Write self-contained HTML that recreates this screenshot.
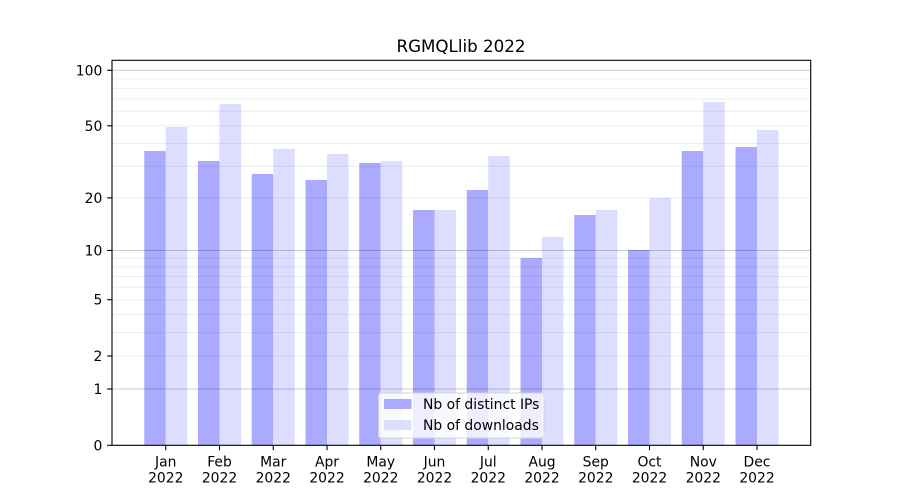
<!DOCTYPE html>
<html>
<head>
<meta charset="utf-8">
<style>
  html,body{margin:0;padding:0;background:#fff;}
  svg{display:block;}
  text{font-family:"DejaVu Sans","Liberation Sans",sans-serif;fill:#000;}
</style>
</head>
<body>
<svg width="900" height="500" viewBox="0 0 900 500" xmlns="http://www.w3.org/2000/svg">
  <rect x="0" y="0" width="900" height="500" fill="#fff"/>
  <!-- title -->
  <text x="461" y="52" font-size="16.7" text-anchor="middle">RGMQLlib 2022</text>

  <!-- bars -->
  <g>
    <!-- IPs -->
    <rect x="144.25" y="151" width="21.5" height="294.3" fill="#aaaaff"/>
    <rect x="198" y="161" width="21.5" height="284.3" fill="#aaaaff"/>
    <rect x="251.75" y="174" width="21.5" height="271.3" fill="#aaaaff"/>
    <rect x="305.5" y="180" width="21.5" height="265.3" fill="#aaaaff"/>
    <rect x="359.25" y="163" width="21.5" height="282.3" fill="#aaaaff"/>
    <rect x="413" y="210" width="21.5" height="235.3" fill="#aaaaff"/>
    <rect x="466.75" y="190" width="21.5" height="255.3" fill="#aaaaff"/>
    <rect x="520.5" y="258" width="21.5" height="187.3" fill="#aaaaff"/>
    <rect x="574.25" y="215" width="21.5" height="230.3" fill="#aaaaff"/>
    <rect x="628" y="250" width="21.5" height="195.3" fill="#aaaaff"/>
    <rect x="681.75" y="151" width="21.5" height="294.3" fill="#aaaaff"/>
    <rect x="735.5" y="147" width="21.5" height="298.3" fill="#aaaaff"/>
    <!-- downloads -->
    <rect x="165.75" y="127" width="21.5" height="318.3" fill="#ddddff"/>
    <rect x="219.5" y="104" width="21.5" height="341.3" fill="#ddddff"/>
    <rect x="273.25" y="149" width="21.5" height="296.3" fill="#ddddff"/>
    <rect x="327" y="154" width="21.5" height="291.3" fill="#ddddff"/>
    <rect x="380.75" y="161" width="21.5" height="284.3" fill="#ddddff"/>
    <rect x="434.5" y="210" width="21.5" height="235.3" fill="#ddddff"/>
    <rect x="488.25" y="156" width="21.5" height="289.3" fill="#ddddff"/>
    <rect x="542" y="237" width="21.5" height="208.3" fill="#ddddff"/>
    <rect x="595.75" y="210" width="21.5" height="235.3" fill="#ddddff"/>
    <rect x="649.5" y="198" width="21.5" height="247.3" fill="#ddddff"/>
    <rect x="703.25" y="102" width="21.5" height="343.3" fill="#ddddff"/>
    <rect x="757" y="130" width="21.5" height="315.3" fill="#ddddff"/>
  </g>

  <!-- minor grid -->
  <g stroke="rgba(0,0,0,0.07)" stroke-width="1">
    <line x1="112" x2="810.7" y1="356.03" y2="356.03"/>
    <line x1="112" x2="810.7" y1="332.65" y2="332.65"/>
    <line x1="112" x2="810.7" y1="314.52" y2="314.52"/>
    <line x1="112" x2="810.7" y1="299.71" y2="299.71"/>
    <line x1="112" x2="810.7" y1="287.18" y2="287.18"/>
    <line x1="112" x2="810.7" y1="276.33" y2="276.33"/>
    <line x1="112" x2="810.7" y1="266.76" y2="266.76"/>
    <line x1="112" x2="810.7" y1="258.2" y2="258.2"/>
    <line x1="112" x2="810.7" y1="197.91" y2="197.91"/>
    <line x1="112" x2="810.7" y1="166.27" y2="166.27"/>
    <line x1="112" x2="810.7" y1="143.55" y2="143.55"/>
    <line x1="112" x2="810.7" y1="125.81" y2="125.81"/>
    <line x1="112" x2="810.7" y1="111.27" y2="111.27"/>
    <line x1="112" x2="810.7" y1="98.93" y2="98.93"/>
    <line x1="112" x2="810.7" y1="88.22" y2="88.22"/>
    <line x1="112" x2="810.7" y1="78.76" y2="78.76"/>
  </g>
  <!-- major grid -->
  <g stroke="rgba(0,0,0,0.2)" stroke-width="1">
    <line x1="112" x2="810.7" y1="388.98" y2="388.98"/>
    <line x1="112" x2="810.7" y1="250.46" y2="250.46"/>
    <line x1="112" x2="810.7" y1="70.29" y2="70.29"/>
  </g>

  <!-- axes frame -->
  <rect x="112" y="60.3" width="698.7" height="385" fill="none" stroke="#000" stroke-width="1.1"/>

  <!-- y ticks -->
  <g stroke="#000" stroke-width="1.1">
    <line x1="107.1" x2="112" y1="445.3" y2="445.3"/>
    <line x1="107.1" x2="112" y1="388.98" y2="388.98"/>
    <line x1="107.1" x2="112" y1="356.03" y2="356.03"/>
    <line x1="107.1" x2="112" y1="299.71" y2="299.71"/>
    <line x1="107.1" x2="112" y1="250.46" y2="250.46"/>
    <line x1="107.1" x2="112" y1="197.91" y2="197.91"/>
    <line x1="107.1" x2="112" y1="125.81" y2="125.81"/>
    <line x1="107.1" x2="112" y1="70.29" y2="70.29"/>
  </g>
  <g font-size="13.9" text-anchor="end">
    <text x="102.3" y="450.3">0</text>
    <text x="102.3" y="394">1</text>
    <text x="102.3" y="361">2</text>
    <text x="102.3" y="304.7">5</text>
    <text x="102.3" y="255.5">10</text>
    <text x="102.3" y="202.9">20</text>
    <text x="102.3" y="130.8">50</text>
    <text x="102.3" y="75.3">100</text>
  </g>

  <!-- x ticks -->
  <g stroke="#000" stroke-width="1.1">
    <line x1="165.75" x2="165.75" y1="445.3" y2="450.2"/>
    <line x1="219.5" x2="219.5" y1="445.3" y2="450.2"/>
    <line x1="273.25" x2="273.25" y1="445.3" y2="450.2"/>
    <line x1="327" x2="327" y1="445.3" y2="450.2"/>
    <line x1="380.75" x2="380.75" y1="445.3" y2="450.2"/>
    <line x1="434.5" x2="434.5" y1="445.3" y2="450.2"/>
    <line x1="488.25" x2="488.25" y1="445.3" y2="450.2"/>
    <line x1="542" x2="542" y1="445.3" y2="450.2"/>
    <line x1="595.75" x2="595.75" y1="445.3" y2="450.2"/>
    <line x1="649.5" x2="649.5" y1="445.3" y2="450.2"/>
    <line x1="703.25" x2="703.25" y1="445.3" y2="450.2"/>
    <line x1="757" x2="757" y1="445.3" y2="450.2"/>
  </g>
  <g font-size="13.9" text-anchor="middle">
    <text x="165.75" y="466.3">Jan</text><text x="165.75" y="482.3">2022</text>
    <text x="219.5" y="466.3">Feb</text><text x="219.5" y="482.3">2022</text>
    <text x="273.25" y="466.3">Mar</text><text x="273.25" y="482.3">2022</text>
    <text x="327" y="466.3">Apr</text><text x="327" y="482.3">2022</text>
    <text x="380.75" y="466.3">May</text><text x="380.75" y="482.3">2022</text>
    <text x="434.5" y="466.3">Jun</text><text x="434.5" y="482.3">2022</text>
    <text x="488.25" y="466.3">Jul</text><text x="488.25" y="482.3">2022</text>
    <text x="542" y="466.3">Aug</text><text x="542" y="482.3">2022</text>
    <text x="595.75" y="466.3">Sep</text><text x="595.75" y="482.3">2022</text>
    <text x="649.5" y="466.3">Oct</text><text x="649.5" y="482.3">2022</text>
    <text x="703.25" y="466.3">Nov</text><text x="703.25" y="482.3">2022</text>
    <text x="757" y="466.3">Dec</text><text x="757" y="482.3">2022</text>
  </g>

  <!-- legend -->
  <rect x="378.5" y="393" width="165.5" height="45" rx="2.5" ry="2.5" fill="rgba(255,255,255,0.8)" stroke="#d4d4d4" stroke-width="1"/>
  <rect x="384" y="399" width="27.5" height="10" fill="#aaaaff"/>
  <rect x="384" y="420" width="27.5" height="10" fill="#ddddff"/>
  <g font-size="13.9">
    <text x="423" y="409">Nb of distinct IPs</text>
    <text x="423" y="430">Nb of downloads</text>
  </g>
</svg>
</body>
</html>
